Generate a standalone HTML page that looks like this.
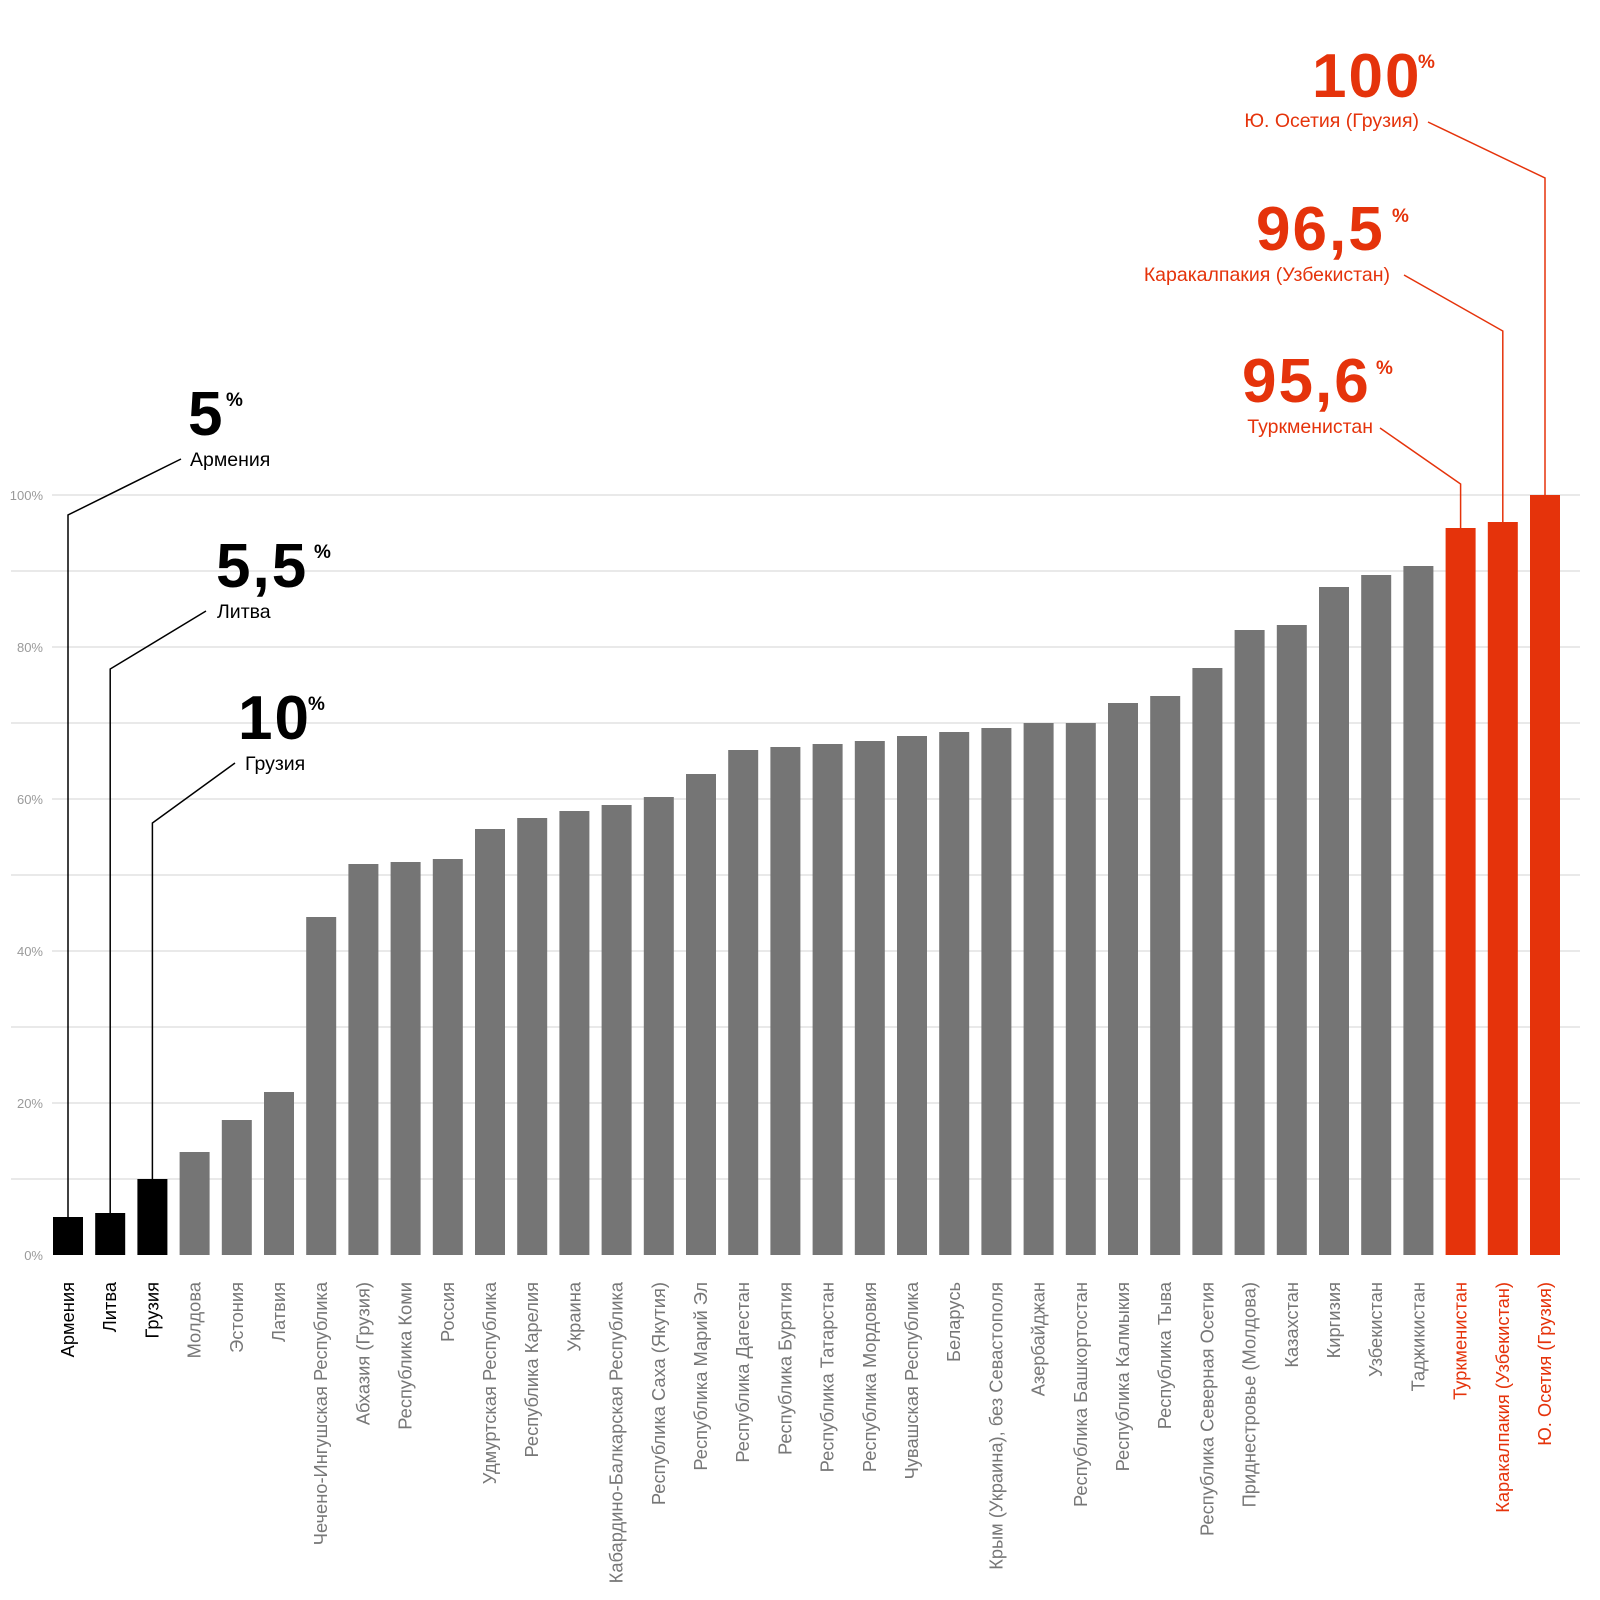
<!DOCTYPE html>
<html><head><meta charset="utf-8"><style>
html,body{margin:0;padding:0;background:#fff}
svg{display:block}
text{font-family:"Liberation Sans",sans-serif}
.cl{font-size:18.3px}
.big{font-size:62px;font-weight:bold;letter-spacing:2px}
.pct{font-size:19px;font-weight:bold}
.nm{font-size:19.5px}
</style></head><body>
<svg width="1600" height="1600" viewBox="0 0 1600 1600" xmlns="http://www.w3.org/2000/svg">
<g stroke="#dcdcdc" stroke-width="1.2">
<line x1="11" y1="1179" x2="1580" y2="1179"/>
<line x1="52" y1="1103" x2="1580" y2="1103"/>
<line x1="11" y1="1027" x2="1580" y2="1027"/>
<line x1="52" y1="951" x2="1580" y2="951"/>
<line x1="11" y1="875" x2="1580" y2="875"/>
<line x1="52" y1="799" x2="1580" y2="799"/>
<line x1="11" y1="723" x2="1580" y2="723"/>
<line x1="52" y1="647" x2="1580" y2="647"/>
<line x1="11" y1="571" x2="1580" y2="571"/>
<line x1="52" y1="495" x2="1580" y2="495"/>
</g>
<g fill="#9a9a9a" font-size="13" text-anchor="end">
<text x="43" y="1260">0%</text>
<text x="43" y="1108">20%</text>
<text x="43" y="956">40%</text>
<text x="43" y="804">60%</text>
<text x="43" y="652">80%</text>
<text x="43" y="500">100%</text>
</g>
<g fill="#000">
<rect x="53" y="1217" width="30" height="38"/>
<rect x="95.2" y="1213" width="30" height="42"/>
<rect x="137.4" y="1179" width="30" height="76"/>
</g>
<g fill="#757575">
<rect x="179.6" y="1152" width="30" height="103"/>
<rect x="221.8" y="1120" width="30" height="135"/>
<rect x="264" y="1092" width="30" height="163"/>
<rect x="306.2" y="917" width="30" height="338"/>
<rect x="348.4" y="864" width="30" height="391"/>
<rect x="390.6" y="862" width="30" height="393"/>
<rect x="432.8" y="859" width="30" height="396"/>
<rect x="475" y="829" width="30" height="426"/>
<rect x="517.2" y="818" width="30" height="437"/>
<rect x="559.4" y="811" width="30" height="444"/>
<rect x="601.6" y="805" width="30" height="450"/>
<rect x="643.8" y="797" width="30" height="458"/>
<rect x="686" y="774" width="30" height="481"/>
<rect x="728.2" y="750" width="30" height="505"/>
<rect x="770.4" y="747" width="30" height="508"/>
<rect x="812.6" y="744" width="30" height="511"/>
<rect x="854.8" y="741" width="30" height="514"/>
<rect x="897" y="736" width="30" height="519"/>
<rect x="939.2" y="732" width="30" height="523"/>
<rect x="981.4" y="728" width="30" height="527"/>
<rect x="1023.6" y="723" width="30" height="532"/>
<rect x="1065.8" y="723" width="30" height="532"/>
<rect x="1108" y="703" width="30" height="552"/>
<rect x="1150.2" y="696" width="30" height="559"/>
<rect x="1192.4" y="668" width="30" height="587"/>
<rect x="1234.6" y="630" width="30" height="625"/>
<rect x="1276.8" y="625" width="30" height="630"/>
<rect x="1319" y="587" width="30" height="668"/>
<rect x="1361.2" y="575" width="30" height="680"/>
<rect x="1403.4" y="566" width="30" height="689"/>
</g>
<g fill="#e5330b">
<rect x="1445.6" y="528" width="30" height="727"/>
<rect x="1487.8" y="522" width="30" height="733"/>
<rect x="1530" y="495" width="30" height="760"/>
</g>
<g class="cl" text-anchor="end">
<g fill="#000">
<text transform="translate(74,1282) rotate(-90)">Армения</text>
<text transform="translate(116.2,1282) rotate(-90)">Литва</text>
<text transform="translate(158.4,1282) rotate(-90)">Грузия</text>
</g>
<g fill="#777">
<text transform="translate(200.6,1282) rotate(-90)">Молдова</text>
<text transform="translate(242.8,1282) rotate(-90)">Эстония</text>
<text transform="translate(285,1282) rotate(-90)">Латвия</text>
<text transform="translate(327.2,1282) rotate(-90)">Чечено-Ингушская Республика</text>
<text transform="translate(369.4,1282) rotate(-90)">Абхазия (Грузия)</text>
<text transform="translate(411.6,1282) rotate(-90)">Республика Коми</text>
<text transform="translate(453.8,1282) rotate(-90)">Россия</text>
<text transform="translate(496,1282) rotate(-90)">Удмуртская Республика</text>
<text transform="translate(538.2,1282) rotate(-90)">Республика Карелия</text>
<text transform="translate(580.4,1282) rotate(-90)">Украина</text>
<text transform="translate(622.6,1282) rotate(-90)">Кабардино-Балкарская Республика</text>
<text transform="translate(664.8,1282) rotate(-90)">Республика Саха (Якутия)</text>
<text transform="translate(707,1282) rotate(-90)">Республика Марий Эл</text>
<text transform="translate(749.2,1282) rotate(-90)">Республика Дагестан</text>
<text transform="translate(791.4,1282) rotate(-90)">Республика Бурятия</text>
<text transform="translate(833.6,1282) rotate(-90)">Республика Татарстан</text>
<text transform="translate(875.8,1282) rotate(-90)">Республика Мордовия</text>
<text transform="translate(918,1282) rotate(-90)">Чувашская Республика</text>
<text transform="translate(960.2,1282) rotate(-90)">Беларусь</text>
<text transform="translate(1002.4,1282) rotate(-90)">Крым (Украина), без Севастополя</text>
<text transform="translate(1044.6,1282) rotate(-90)">Азербайджан</text>
<text transform="translate(1086.8,1282) rotate(-90)">Республика Башкортостан</text>
<text transform="translate(1129,1282) rotate(-90)">Республика Калмыкия</text>
<text transform="translate(1171.2,1282) rotate(-90)">Республика Тыва</text>
<text transform="translate(1213.4,1282) rotate(-90)">Республика Северная Осетия</text>
<text transform="translate(1255.6,1282) rotate(-90)">Приднестровье (Молдова)</text>
<text transform="translate(1297.8,1282) rotate(-90)">Казахстан</text>
<text transform="translate(1340,1282) rotate(-90)">Киргизия</text>
<text transform="translate(1382.2,1282) rotate(-90)">Узбекистан</text>
<text transform="translate(1424.4,1282) rotate(-90)">Таджикистан</text>
</g>
<g fill="#e5330b">
<text transform="translate(1466.6,1282) rotate(-90)">Туркменистан</text>
<text transform="translate(1508.8,1282) rotate(-90)">Каракалпакия (Узбекистан)</text>
<text transform="translate(1551,1282) rotate(-90)">Ю. Осетия (Грузия)</text>
</g>
</g>
<g fill="none" stroke="#000" stroke-width="1.5">
<polyline points="181,459 68,515 68,1217"/>
<polyline points="206,611 110.2,669 110.2,1213"/>
<polyline points="235,763 152.4,823 152.4,1179"/>
</g>
<g fill="none" stroke="#e5330b" stroke-width="1.5">
<polyline points="1428,122 1545,178 1545,495"/>
<polyline points="1404,275 1502.8,331 1502.8,522"/>
<polyline points="1380,428 1460.6,484 1460.6,528"/>
</g>
<g fill="#000">
<text class="big" x="188" y="435">5</text><text class="pct" x="226" y="406">%</text>
<text class="nm" x="190" y="466">Армения</text>
<text class="big" x="216" y="587">5,5</text><text class="pct" x="314" y="558">%</text>
<text class="nm" x="217" y="618">Литва</text>
<text class="big" x="238" y="739">10</text><text class="pct" x="308" y="710">%</text>
<text class="nm" x="245" y="770">Грузия</text>
</g>
<g fill="#e5330b">
<text class="big" x="1312" y="97">100</text><text class="pct" x="1418" y="68">%</text>
<text class="nm" x="1419" y="127" text-anchor="end">Ю. Осетия (Грузия)</text>
<text class="big" x="1256" y="250">96,5</text><text class="pct" x="1392" y="222">%</text>
<text class="nm" x="1390" y="281" text-anchor="end">Каракалпакия (Узбекистан)</text>
<text class="big" x="1242" y="402">95,6</text><text class="pct" x="1376" y="374">%</text>
<text class="nm" x="1373" y="433" text-anchor="end">Туркменистан</text>
</g>
</svg>
</body></html>
